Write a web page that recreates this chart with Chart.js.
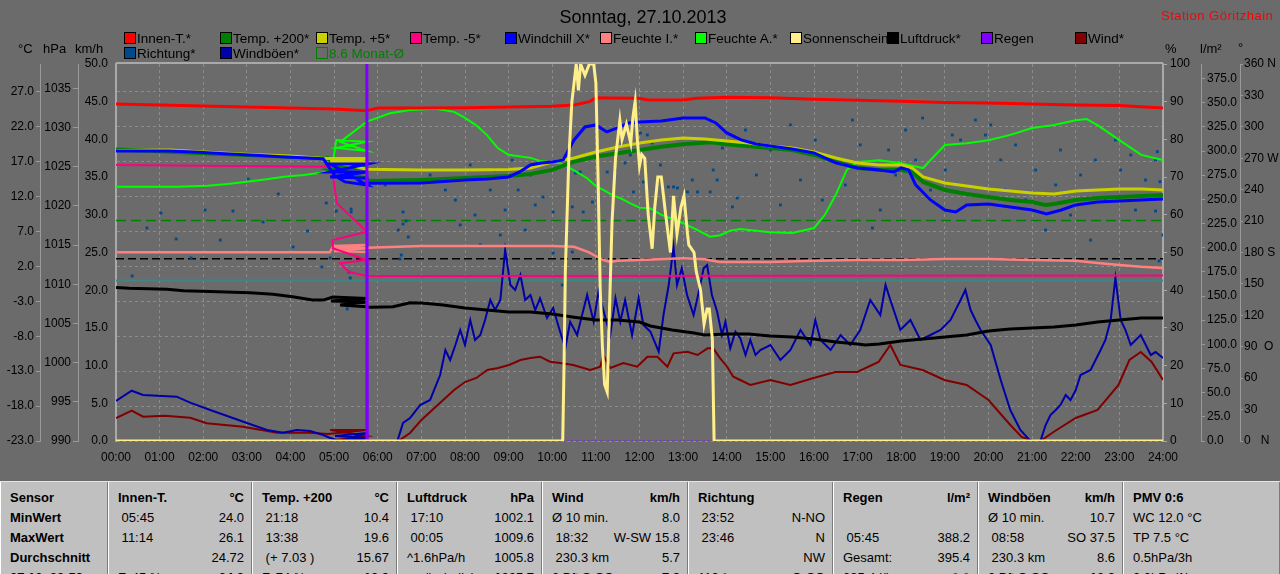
<!DOCTYPE html>
<html><head><meta charset="utf-8">
<script src="https://cdn.jsdelivr.net/npm/chart.js@4.4.0/dist/chart.umd.min.js"></script>
<style>
html,body{margin:0;padding:0;background:#6b6b6b;width:1280px;height:574px;overflow:hidden;font-family:"Liberation Sans",Arial,sans-serif;}
#wrap{position:relative;width:1280px;height:574px;}
canvas{position:absolute;left:0;top:0;}
.t{position:absolute;white-space:nowrap;color:#000;font-size:13px;line-height:15px;}
.sq{position:absolute;width:10px;height:10px;border:1px solid #000;}
#tbl{position:absolute;left:0;top:481px;width:1280px;height:93px;background:#c0c0c0;display:flex;border-top:1px solid #e6e6e6;}
.col{box-sizing:border-box;height:100%;border-left:1px solid #fff;border-right:1px solid #7a7a7a;padding:6px 7px 0 9px;}
.row{display:flex;justify-content:space-between;height:20px;line-height:20px;font-size:13px;white-space:pre;color:#000;}
.b{font-weight:bold;}
</style></head>
<body><div id="wrap"><canvas id="c" width="1280" height="480"></canvas></div>
<script>
// ---------- DATA ----------
const HOURS = [0,1,2,3,4,5,6,7,8,9,10,11,12,13,14,15,16,17,18,19,20,21,22,23,24];
const HOUR_LABELS = ['00:00','01:00','02:00','03:00','04:00','05:00','06:00','07:00','08:00','09:00','10:00','11:00','12:00','13:00','14:00','15:00','16:00','17:00','18:00','19:00','20:00','21:00','22:00','23:00','24:00'];
const TICKS_C = [-23,-18,-13,-8,-3,2,7,12,17,22,27];
const TICKS_HPA = [990,995,1000,1005,1010,1015,1020,1025,1030,1035];
const TICKS_KMH = [0,5,10,15,20,25,30,35,40,45,50];
const TICKS_PCT = [0,10,20,30,40,50,60,70,80,90,100];
const TICKS_RAIN = [0,25,50,75,100,125,150,175,200,225,250,275,300,325,350,375];
const TICKS_DEG = [0,30,60,90,120,150,180,210,240,270,300,330,360];
const DEG_NAMES = {0:'0   N',90:'90  O',180:'180 S',270:'270 W',360:'360 N'};

const INNEN_T = [[0,25.28],[1,25.14],[2,24.98],[3,24.83],[4,24.69],[5,24.55],[5.75,24.32],[6,24.68],[7,24.7],[8,24.75],[9,24.85],[10,24.95],[10.5,25.14],[10.85,25.6],[11.0,26.15],[11.25,26.12],[12,26.1],[12.2,25.85],[13.0,25.85],[13.3,26.1],[14,26.24],[15,26.15],[16,25.95],[17,25.8],[18,25.65],[19,25.5],[20,25.4],[21,25.28],[22,25.14],[23,25.05],[24,24.7]];
const TEMP_200 = [[0,18.76],[1,18.5],[2,18.2],[3,17.95],[4,17.7],[4.75,17.5],[4.86,17.54],[5.05,16.4],[5.75,16.26],[4.95,15.83],[5.75,14.54],[5.76,14.25],[7,14.39],[8,14.68],[9,14.97],[9.5,15.25],[10,15.83],[10.5,17.01],[11,17.73],[11.5,18.22],[12,18.69],[12.5,19.16],[13,19.51],[13.63,19.79],[14,19.51],[14.33,19.31],[15,18.98],[15.5,18.69],[16,17.97],[16.5,16.97],[17,16.11],[17.5,15.83],[18,15.83],[18.25,15.54],[18.5,14.1],[19,12.96],[19.5,12.39],[20,11.96],[20.5,11.53],[21,11.24],[21.3,10.81],[21.5,10.95],[22,11.53],[22.5,11.81],[23,11.96],[23.5,12.1],[24,12.24]];
const TEMP_5 = [[0,18.6],[1.25,18.69],[2,18.4],[3,18.07],[4,17.83],[4.6,17.59],[4.85,17.45],[5.75,17.47],[4.91,17.26],[5.75,16.97],[4.91,17.11],[5.75,15.93],[7,15.83],[8,15.83],[9,15.9],[9.5,16.11],[10,16.97],[10.5,17.54],[11,18.4],[11.5,19.12],[12,19.69],[12.5,20.12],[13,20.41],[13.5,20.27],[14,19.98],[14.5,19.69],[15,19.26],[15.5,18.98],[16,18.4],[16.5,17.54],[17,16.83],[17.5,16.54],[18,16.54],[18.25,16.11],[18.5,14.82],[19,13.96],[19.5,13.53],[20,13.1],[20.5,12.82],[21,12.53],[21.5,12.39],[22,12.82],[22.5,12.96],[23,13.1],[23.5,13.1],[24,12.96]];
const TEMP_M5 = [[0,16.54],[4.947,16.3],[5.062,11.05],[5.75,6.99],[4.97,5.8],[4.97,4.61],[5.75,2.93],[5.138,2.46],[5.328,1.26],[5.75,0.64],[24,0.7]];
const WINDCHILL = [[0,18.55],[1.2,18.55],[1.8,18.4],[2.5,18.16],[3.2,17.93],[3.8,17.73],[4.75,17.44],[4.86,16.4],[5.02,14.97],[5.25,14.11],[5.75,13.68],[4.91,16.69],[5.75,16.69],[4.91,15.54],[5.75,15.54],[4.91,14.82],[5.75,14.68],[5.76,13.92],[7,13.96],[8,14.39],[8.5,14.54],[9,14.82],[9.25,15.54],[9.5,16.54],[9.75,16.83],[10,16.97],[10.25,17.26],[10.5,20.12],[10.75,21.98],[11,22.27],[11.25,21.27],[11.5,21.84],[11.75,22.56],[12,22.7],[12.5,22.85],[13,23.28],[13.5,23.28],[13.75,22.56],[14,21.13],[14.33,20.12],[14.67,19.55],[15,19.26],[15.5,18.83],[16,18.26],[16.5,16.83],[17,16.11],[17.5,15.83],[17.83,15.54],[18,16.11],[18.17,15.83],[18.33,13.68],[18.67,11.53],[19,10.09],[19.25,9.81],[19.5,10.81],[20,10.95],[20.5,10.52],[21,10.09],[21.33,9.52],[21.67,10.09],[22,10.81],[22.5,11.24],[23,11.38],[23.5,11.53],[24,11.67]];
const FEUCHTE_I = [[0,50.05],[4.9,50.05],[4.98,51.72],[5.75,51.99],[5.0,51.11],[5.75,51.11],[5.0,50.4],[5.75,50.13],[5.76,51.27],[7,51.7],[8,51.7],[9,51.7],[10,51.7],[10.5,51.5],[10.83,50.1],[11.17,48.0],[11.33,47.5],[11.5,47.8],[12,48.0],[13,48.5],[13.5,48.2],[13.83,47.5],[15,47.5],[16,47.8],[17,48.0],[18,48.0],[19,48.3],[20,48.3],[21,48.0],[22,47.8],[22.5,47.2],[23,46.7],[23.5,46.2],[24,45.9]];
const FEUCHTE_A = [[0,67.45],[1.4,67.45],[2.1,67.72],[2.55,68.17],[3.0,68.78],[3.45,69.42],[3.85,70.11],[4.3,70.56],[4.7,71.17],[4.83,71.43],[4.98,74.54],[5.05,79.84],[5.75,79.39],[5.05,77.72],[5.75,76.92],[5.14,79.31],[5.75,84.7],[6.28,86.92],[6.74,87.8],[7.33,88.1],[7.75,87.3],[8,85.7],[8.25,83.8],[8.5,81.2],[8.75,77.7],[9,75.9],[9.5,75.1],[9.72,74.3],[10.18,73.7],[10.48,71.9],[10.8,69.7],[10.99,67.7],[11.17,66.6],[11.37,65.3],[11.56,64.4],[11.79,63.05],[12.0,61.9],[12.25,61.7],[12.48,60.1],[12.71,59.1],[13.01,57.7],[13.32,56.0],[13.62,54.2],[13.85,54.6],[14.08,55.8],[14.31,56.2],[15,55.4],[15.5,55.2],[16,56.5],[16.25,60.0],[16.5,65.3],[16.75,71.9],[17,74.0],[17.5,74.5],[18,73.7],[18.25,73.0],[18.5,72.4],[18.67,74.5],[19,78.5],[19.5,79.0],[20,79.8],[20.5,81.2],[21,83.0],[21.5,83.8],[22,85.1],[22.25,85.4],[22.5,83.8],[23,79.8],[23.5,75.9],[24,74.5]];
const SONNE = [[0,0],[10.24,0],[10.27,20],[10.3,45],[10.38,75],[10.45,90],[10.5,95],[10.55,100],[10.6,93],[10.65,100],[10.75,97],[10.85,100],[10.95,100],[11.0,95],[11.05,70],[11.1,40],[11.15,25],[11.2,15],[11.26,13],[11.3,30],[11.37,58],[11.45,75],[11.55,85],[11.6,80],[11.7,84],[11.8,79],[11.85,86],[11.9,90],[11.95,80],[12.0,73],[12.05,76],[12.12,75],[12.2,60],[12.29,51],[12.35,62],[12.42,70],[12.5,70],[12.6,60],[12.71,50],[12.78,65],[12.86,55],[12.95,62],[13.02,65],[13.1,55],[13.13,52],[13.25,50],[13.3,45],[13.4,40],[13.48,31],[13.55,35],[13.6,35],[13.67,27],[13.71,0],[24,0]];
const LUFTDRUCK = [[0,1009.6],[0.3,1009.48],[1.17,1009.35],[1.55,1009.17],[2.15,1009.09],[3.07,1008.92],[3.6,1008.71],[4.05,1008.41],[4.5,1007.98],[4.75,1007.98],[4.97,1008.37],[5.75,1008.18],[4.93,1007.86],[5.75,1007.73],[5.14,1007.35],[5.75,1007.13],[5.83,1007.05],[6.35,1007.13],[6.74,1007.64],[7,1007.6],[7.5,1007.35],[8,1006.96],[8.5,1006.7],[9,1006.45],[9.5,1006.45],[10,1006.2],[10.5,1005.8],[11,1005.43],[11.5,1005.43],[12,1005.18],[12.25,1004.67],[12.75,1004.16],[13.25,1003.78],[13.5,1003.52],[14,1003.65],[14.5,1003.65],[15,1003.39],[15.5,1003.27],[16,1003.0],[16.5,1002.63],[17,1002.37],[17.17,1002.24],[17.5,1002.37],[18,1002.76],[18.5,1003.0],[19,1003.27],[19.5,1003.52],[20,1004.03],[20.5,1004.29],[21,1004.41],[21.5,1004.54],[22,1004.8],[22.5,1005.18],[23,1005.43],[23.5,1005.69],[24,1005.69]];
const REGEN = [[0,0],[5.74,0],[5.75,395],[5.76,0],[24,0]];
const WIND = [[0,3.05],[0.36,4.02],[0.62,3.22],[1.12,3.36],[1.7,3.09],[2.08,2.35],[2.91,1.9],[3.69,1.1],[4.45,1.1],[4.86,0.93],[5.75,1.46],[4.91,1.46],[5.75,0.66],[5.02,0.13],[5.75,0.13],[5.83,0],[6.47,0],[6.74,1.06],[7.0,2.79],[7.25,4.11],[7.5,5.44],[7.75,6.76],[8.0,7.82],[8.26,8.36],[8.51,9.42],[8.76,9.68],[9.01,10.08],[9.27,10.74],[9.5,11.0],[9.72,11.18],[9.95,10.52],[10.18,10.34],[10.48,10.08],[10.87,9.42],[11.1,9.85],[11.17,11.41],[11.33,9.68],[11.63,10.34],[11.95,9.85],[12.18,11.18],[12.41,11.18],[12.64,9.85],[12.78,11.63],[13.1,11.84],[13.33,11.41],[13.56,12.29],[13.69,12.29],[13.85,10.97],[14.01,9.85],[14.15,8.53],[14.31,8.09],[14.54,7.43],[15.0,8.09],[15.46,7.43],[15.99,8.36],[16.49,9.15],[16.99,9.15],[17.48,10.48],[17.75,12.73],[17.98,10.08],[18.49,9.42],[18.99,8.09],[19.5,7.43],[20.0,5.44],[20.5,2.12],[20.76,0.53],[21.01,0],[21.19,0],[21.49,1.19],[22.0,3.05],[22.5,4.11],[22.98,7.43],[23.23,10.74],[23.49,11.8],[23.74,10.48],[24,8.09]];
const WINDBOEEN = [[0,5.3],[0.36,6.67],[0.62,6.1],[1.39,5.88],[1.7,5.08],[2.16,4.11],[2.92,2.56],[3.46,1.46],[3.83,1.1],[4.14,1.46],[4.45,1.33],[4.75,0.8],[4.91,0.4],[5.14,0],[5.75,1.06],[5.02,0.66],[5.75,0.4],[5.25,0],[5.75,0],[6.45,0],[6.58,2.39],[6.74,3.05],[6.97,4.77],[7.2,5.44],[7.43,8.75],[7.55,12.07],[7.66,10.74],[7.78,12.73],[7.89,14.72],[8.0,12.73],[8.12,16.05],[8.23,13.4],[8.35,14.06],[8.46,16.05],[8.58,18.7],[8.69,17.37],[8.81,18.7],[8.92,25.33],[9.04,20.69],[9.15,20.03],[9.27,22.02],[9.38,18.7],[9.5,19.36],[9.61,17.37],[9.72,18.93],[9.88,16.31],[10.02,17.64],[10.18,14.5],[10.3,12.33],[10.41,15.82],[10.57,14.06],[10.8,19.36],[10.95,15.82],[11.06,19.8],[11.22,16.27],[11.33,14.06],[11.45,18.93],[11.56,15.82],[11.67,18.7],[11.83,14.06],[11.98,18.93],[12.09,15.38],[12.25,14.5],[12.44,11.84],[12.55,16.71],[12.67,20.69],[12.78,25.77],[12.86,20.69],[12.97,22.9],[13.09,19.36],[13.24,16.71],[13.36,19.8],[13.47,22.9],[13.55,23.34],[13.66,19.36],[13.78,17.15],[13.89,14.06],[13.97,15.82],[14.08,12.29],[14.2,14.5],[14.31,13.62],[14.43,11.41],[14.54,13.4],[14.66,11.41],[14.77,12.07],[15.0,12.73],[15.23,10.74],[15.46,12.07],[15.69,14.72],[15.92,12.73],[16.03,16.05],[16.15,13.4],[16.38,12.07],[16.61,14.06],[16.83,12.73],[17.06,14.72],[17.29,18.7],[17.52,16.71],[17.64,20.69],[17.75,18.7],[17.98,14.72],[18.21,16.05],[18.44,13.4],[18.67,14.06],[18.9,14.72],[19.13,16.05],[19.36,18.7],[19.47,20.03],[19.59,17.37],[19.7,16.05],[19.82,14.72],[20.05,12.73],[20.28,8.09],[20.5,4.11],[20.73,1.46],[20.96,0],[21.19,0],[21.31,2.12],[21.42,3.45],[21.54,4.11],[21.65,4.77],[21.77,6.1],[21.88,5.44],[22.0,6.76],[22.11,8.75],[22.34,9.42],[22.57,12.07],[22.68,13.4],[22.8,16.05],[22.91,21.62],[23.03,16.05],[23.14,14.72],[23.26,12.73],[23.49,14.06],[23.72,11.41],[23.83,11.8],[24,11.0]];
const RICHTUNG = [[0.37,157.6],[0.71,203.4],[1.03,217.7],[1.38,192.9],[1.72,174.8],[2.04,220.6],[2.39,191.9],[2.68,219.6],[3.03,250.2],[3.37,209.1],[3.72,235.9],[4.06,185.3],[4.39,200.5],[4.72,166.2],[4.82,227.3],[4.91,174.8],[5.05,219.6],[5.30,126.1],[5.34,161.4],[5.37,155.7],[5.39,221.5],[5.39,218.7],[6.17,244.5],[6.47,201.5],[6.51,173.8],[6.54,177.6],[6.58,218.7],[6.58,207.2],[6.65,210.1],[6.70,194.8],[6.97,249.2],[7.20,254.0],[7.55,239.7],[7.78,230.1],[7.89,206.3],[8.12,263.6],[8.23,215.8],[8.35,187.2],[8.58,239.7],[8.69,258.8],[8.81,196.7],[8.92,220.6],[9.08,268.3],[9.22,239.7],[9.38,201.5],[9.50,254.0],[9.61,225.4],[9.79,233.0],[10.02,218.7],[10.02,179.5],[10.23,149.0],[10.46,223.5],[10.46,180.5],[10.53,255.9],[10.64,256.9],[10.71,218.7],[10.92,228.2],[11.06,273.1],[11.26,256.9],[11.44,258.8],[11.67,265.5],[11.79,273.1],[11.86,237.8],[12.02,294.1],[12.09,247.3],[12.18,292.2],[12.29,284.6],[12.48,263.6],[12.66,242.6],[12.78,242.6],[12.87,241.6],[13.10,237.8],[13.21,249.2],[13.33,237.8],[13.62,237.8],[13.69,258.8],[13.78,249.2],[13.90,279.8],[14.13,223.5],[14.24,232.0],
 [14.43,297.0],[14.68,254.0],[15.0,277.9],[15.23,225.4],[15.46,301.8],[15.69,249.2],[16.03,287.4],[16.19,230.1],[16.38,268.3],[16.72,244.5],[16.88,306.5],[17.06,282.7],[17.34,203.4],[17.52,220.6],[17.71,277.9],[17.87,254.0],[18.1,297.0],[18.33,268.3],[18.49,308.4],[18.67,239.7],[19.01,258.8],[19.17,292.2],[19.36,287.4],[19.7,306.5],[19.93,292.2],[20.05,301.8],[20.28,268.3],[20.39,239.7],[20.62,282.7],[20.85,230.1],[21.08,258.8],[21.31,201.5],[21.54,244.5],[21.65,277.9],[21.88,215.8],[22.11,254.0],[22.34,191.9],[22.45,268.3],[22.68,230.1],[22.91,287.4],[23.03,258.8],[23.26,273.1],[23.37,220.6],[23.6,249.2],[23.87,276.3],[23.83,268.3],[23.93,247.6],[23.83,219.6],[24.0,196.7],[23.91,171.9]];
const MONAT_MITTEL = 8.6;      // °C, Monat-Ø
const NORMALDRUCK = 1013.25;   // hPa
const FROSTGRENZE = 0;         // °C

const LEGEND = [
 ['Innen-T.*','#ff0000',124,0],['Temp. +200*','#008000',220,0],['Temp. +5*','#c8d000',316,0],['Temp. -5*','#ff0080',410,0],
 ['Windchill X*','#0000ff',505,0],['Feuchte I.*','#ff8080',600,0],['Feuchte A.*','#00ff00',695,0],['Sonnenschein','#ffef8a',790,0],
 ['Luftdruck*','#000000',887,0],['Regen','#8000ff',981,0],['Wind*','#800000',1075,0],
 ['Richtung*','#004a8c',124,1],['Windböen*','#0000a8',220,1],['8.6 Monat-Ø','none',316,1]
];
const TABLE = [
 [['Sensor','',1],['MinWert','',1],['MaxWert','',1],['Durchschnitt','',1],['27.10. 23:59','',1]],
 [['Innen-T.','°C',1],[' 05:45','24.0'],[' 11:14','26.1'],['','24.72'],['F. 45 %','24.8',2]],
 [['Temp. +200','°C',1],[' 21:18','10.4'],[' 13:38','19.6'],[' (+ 7.03 )','15.67'],['F. 74 %','12.3',2]],
 [['Luftdruck','hPa',1],[' 17:10','1002.1'],[' 00:05','1009.6'],['^1.6hPa/h','1005.8'],['veränderlich','1005.7',2]],
 [['Wind','km/h',1],['Ø 10 min.','8.0'],[' 18:32','W-SW 15.8'],[' 230.3 km','5.7'],['2 Bft S-SO','7.9',2]],
 [['Richtung','',1],[' 23:52','N-NO'],[' 23:46','N'],['','NW'],['110 °','O-SO',2]],
 [['Regen','l/m²',1],['',''],[' 05:45','388.2'],['Gesamt:','395.4'],['395.4 l/h','0.0',3]],
 [['Windböen','km/h',1],['Ø 10 min.','10.7'],[' 08:58','SO 37.5'],[' 230.3 km','8.6'],['2 Bft S-SO','10.8',2]],
 [['PMV 0:6','',1],['WC 12.0 °C',''],['TP 7.5 °C',''],['0.5hPa/3h',''],['0.0hPa/1h','']]
];
const COL_W = [108,144,145,145,146,145,145,145,157];

// ---------- HTML overlays ----------
const wrap = document.getElementById('wrap');
function addText(txt, left, top, css) {
  const d = document.createElement('div'); d.className = 't'; d.textContent = txt;
  d.style.left = left + 'px'; d.style.top = top + 'px'; if (css) d.style.cssText += css; wrap.appendChild(d); return d;
}
addText('Sonntag, 27.10.2013', 0, 7, 'font-size:18px;line-height:20px;width:1286px;text-align:center;');
addText('Station Göritzhain', 1161, 8, 'color:#ff0000;font-size:13px;letter-spacing:0.5px;');
LEGEND.forEach(([lab, col, x, r]) => {
  const y = r ? 47 : 32;
  const s = document.createElement('div'); s.className = 'sq';
  s.style.left = x + 'px'; s.style.top = y + 'px';
  if (col === 'none') { s.style.borderColor = '#008000'; s.style.background = 'transparent'; }
  else s.style.background = col;
  addText(lab, x + 13, y - 1, (col === 'none' ? 'color:#008000;' : '') + 'font-size:13.5px;');
  wrap.appendChild(s);
});
addText('°C', 18, 41); addText('hPa', 43, 41); addText('km/h', 75, 41);
addText('%', 1165, 41); addText('l/m²', 1200, 41); addText('°', 1238, 40);

const tbl = document.createElement('div'); tbl.id = 'tbl';
TABLE.forEach((col, ci) => {
  const c = document.createElement('div'); c.className = 'col'; c.style.width = COL_W[ci] + 'px';
  col.forEach(([l, r, b]) => {
    const row = document.createElement('div'); row.className = 'row';
    const a = document.createElement('span'); a.textContent = l; if (b === 1) a.className = 'b';
    const z = document.createElement('span'); z.textContent = r; if (b) z.className = 'b';
    if (b === 3) z.style.color = '#ff0000';
    row.appendChild(a); row.appendChild(z); c.appendChild(row);
  });
  tbl.appendChild(c);
});
wrap.appendChild(tbl);

// ---------- CHART ----------
const pts = a => a.map(([x, y]) => ({x, y}));
const flat = (v) => [{x:0,y:v},{x:24,y:v}];
const FONT = {family:'"Liberation Sans", Arial, sans-serif', size:12};
const setTicks = arr => s => { s.ticks = arr.map(v => ({value:v})); };
const line = (label, data, color, w, axis, extra) => Object.assign({label, data: pts(data), borderColor: color, backgroundColor: color, borderWidth: w, yAxisID: axis, pointRadius: 0, fill: false, tension: 0}, extra || {});

const frame = {
  id: 'frame',
  beforeDatasetsDraw(chart) {
    const {ctx, chartArea: a} = chart;
    ctx.save(); ctx.strokeStyle = '#a9a9a9'; ctx.lineWidth = 2;
    ctx.beginPath(); ctx.moveTo(a.left, a.top - 1); ctx.lineTo(a.right, a.top - 1); ctx.stroke(); ctx.restore();
  }
};

new Chart(document.getElementById('c'), {
  type: 'line',
  data: { datasets: [
    line('Sonnenschein', SONNE, '#ffef8a', 3, 'yPct'),
    line('Regen', REGEN, '#8000ff', 3, 'yRain', {segment: {
      borderDash: c => (c.p0.parsed.y === 0 && c.p1.parsed.y === 0) ? [2, 2] : undefined,
      borderWidth: c => (c.p0.parsed.y === 0 && c.p1.parsed.y === 0) ? 1 : undefined }}),
    line('Innen-T.*', INNEN_T, '#ff0000', 3, 'yC'),
    line('Windchill X*', WINDCHILL, '#0000ff', 3, 'yC'),
    line('Temp. +5*', TEMP_5, '#c8d000', 3, 'yC'),
    line('Temp. +200*', TEMP_200, '#008000', 4, 'yC'),
    line('Temp. -5*', TEMP_M5, '#ff0080', 2, 'yC'),
    line('Feuchte A.*', FEUCHTE_A, '#00ff00', 2, 'yPct'),
    line('Feuchte I.*', FEUCHTE_I, '#ff8080', 2.5, 'yPct'),
    line('Luftdruck*', LUFTDRUCK, '#000000', 3, 'yHpa'),
    line('Windböen*', WINDBOEEN, '#0000a8', 2, 'yKm'),
    line('Wind*', WIND, '#800000', 2, 'yKm'),
    {label:'Richtung*', type:'scatter', data: pts(RICHTUNG), yAxisID:'yDeg', showLine:false, pointStyle:'rect', pointRadius:2, pointBorderWidth:0, backgroundColor:'#004a8c', borderColor:'#004a8c'},
    {label:'Monat', data: flat(MONAT_MITTEL), yAxisID:'yC', borderColor:'#008000', borderWidth:1.5, borderDash:[10,5], pointRadius:0},
    {label:'Normaldruck', data: flat(NORMALDRUCK), yAxisID:'yHpa', borderColor:'#000000', borderWidth:1.5, borderDash:[8,4], pointRadius:0},
    {label:'Frost', data: flat(FROSTGRENZE), yAxisID:'yC', borderColor:'#3f8585', borderWidth:2, pointRadius:0}
  ]},
  options: {
    responsive: false, animation: false, events: [],
    layout: {padding: {top: 64, left: 0, right: 0, bottom: 0}},
    plugins: {legend: {display: false}, title: {display: false}, tooltip: {enabled: false}},
    scales: {
      x: {type:'linear', min:0, max:24, afterBuildTicks: setTicks(HOURS), afterFit: s => { s.height = 39; },
          ticks: {callback: v => HOUR_LABELS[v], color:'#000', font: FONT, padding: 9, maxRotation: 0, autoSkip: false},
          grid: {color:'#8c8c8c', drawTicks: false}, border: {display: false, dash: [3, 3]}},
      yKm: {position:'left', min:0, max:50, afterBuildTicks: setTicks(TICKS_KMH), afterFit: s => { s.width = 38; },
          ticks: {callback: v => v.toFixed(1), color:'#000', font: FONT, padding: 8},
          grid: {drawOnChartArea: false, drawTicks: false}, border: {color:'#a9a9a9', width: 2}},
      yHpa: {position:'left', min:990, max:1038.1, afterBuildTicks: setTicks(TICKS_HPA), afterFit: s => { s.width = 38; },
          ticks: {callback: v => String(v), color:'#000', font: FONT, padding: 2},
          grid: {drawOnChartArea: false, drawTicks: true, tickLength: 5, color:'#9a9a9a'}, border: {color:'#9a9a9a', width: 1}},
      yC: {position:'left', min:-23, max:31, afterBuildTicks: setTicks(TICKS_C), afterFit: s => { s.width = 40; },
          ticks: {callback: v => v.toFixed(1), color:'#000', font: FONT, padding: 2},
          grid: {drawOnChartArea: true, drawTicks: true, tickLength: 4, color:'#8c8c8c', tickColor:'#9a9a9a'},
          border: {color:'#9a9a9a', width: 1, dash: [3, 3]}},
      yPct: {position:'right', min:0, max:100, afterBuildTicks: setTicks(TICKS_PCT), afterFit: s => { s.width = 38; },
          ticks: {callback: v => String(v), color:'#000', font: FONT, padding: 3},
          grid: {drawOnChartArea: false, drawTicks: true, tickLength: 4, color:'#a9a9a9'}, border: {color:'#a9a9a9', width: 2}},
      yRain: {position:'right', min:0, max:390, afterBuildTicks: setTicks(TICKS_RAIN), afterFit: s => { s.width = 39; },
          ticks: {callback: v => v.toFixed(1), color:'#000', font: FONT, padding: 2},
          grid: {drawOnChartArea: false, drawTicks: true, tickLength: 4, color:'#9a9a9a'}, border: {color:'#9a9a9a', width: 1}},
      yDeg: {position:'right', min:0, max:360, afterBuildTicks: setTicks(TICKS_DEG), afterFit: s => { s.width = 40; },
          ticks: {callback: v => DEG_NAMES[v] || String(v), color:'#000', font: FONT, padding: 1},
          grid: {drawOnChartArea: false, drawTicks: true, tickLength: 3, color:'#9a9a9a'}, border: {color:'#9a9a9a', width: 1}}
    }
  },
  plugins: [frame]
});
</script></body></html>
